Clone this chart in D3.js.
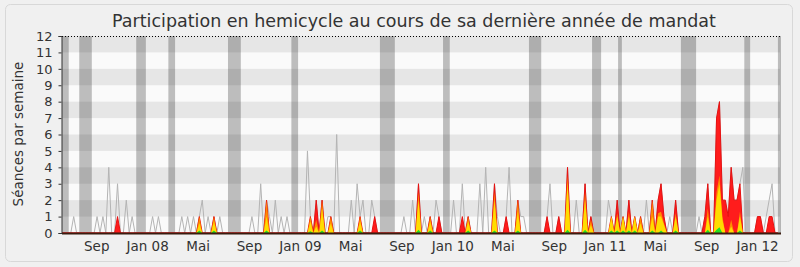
<!DOCTYPE html>
<html>
<head>
<meta charset="utf-8">
<script src="https://cdn.jsdelivr.net/npm/d3@7"></script>
<style>
body { margin: 0; background: #f0f0f0; }
svg { display: block; font-family: "DejaVu Sans", Verdana, sans-serif; }
</style>
</head>
<body>
<svg id="chart" width="800" height="267"></svg>
<script>
// weekly data, [week index, value], weeks missing = 0
const debut = new Date(2007, 5, 11);
const fin = new Date(2012, 1, 25);
const nbSemaines = 246;

const seances = [[4,1],[12,1],[14,1],[16,4],[19,3],[22,2],[24,1],[31,1],[33,1],[41,1],[43,1],[45,1],[47,1],[48,2],[50,1],[52,1],[54,1],
    [65,1],[68,3],[70,2],[71,1],[73,2],[75,1],[77,1],
    [84,5],[85,1],[87,2],[89,2],[91,1],[92,1],[94,6],
    [99,2],[101,3],[102,1],[103,2],[106,2],[107,1],
    [117,1],[120,2],[122,3],[124,1],[126,1],[128,2],[129,1],
    [134,2],[137,3],[139,1],[143,3],[145,4],[148,3],[149,1],[152,1],[153,4],[156,2],[157,1],[158,1],
    [166,1],[167,3],[170,1],[173,4],[176,2],[179,3],[181,1],
    [187,2],[188,1],[190,2],[192,1],[194,2],[196,1],[198,1],[200,2],[202,2],[204,2],[205,3],[206,1],[208,1],[210,2],
    [218,1],[220,1],[221,3],[224,7],[225,8],[226,2],[227,2],[228,1],[229,4],[230,2],[231,2],[232,3],[233,4],
    [238,1],[239,1],[241,1],[242,2],[243,3]];

const presences = [[19,1],[47,1],[52,1],[70,2],[85,1],[87,2],[89,2],[92,1],[102,1],[107,1],[122,3],[126,1],[129,1],
    [137,1],[139,1],[148,3],[152,1],[156,2],[166,1],[170,1],[173,4],[179,3],[181,1],[188,1],[190,2],[192,1],[194,2],
    [196,1],[198,1],[202,2],[204,2],[205,3],[206,1],[210,2],[220,1],[221,3],[224,7],[225,8],[226,2],[227,2],[228,1],
    [229,4],[230,2],[231,2],[232,3],[238,1],[239,1],[242,1],[243,1]];

const participations = [[47,1],[52,1],[70,2],[85,1],[87,0.8],[89,2],[92,1],[102,1],[122,2.5],[126,1],[139,1],[148,2.5],
    [156,2],[173,3.5],[179,2.5],[181,0.8],[188,1],[190,1.2],[192,1],[194,1.3],[196,1],[198,1],[202,2],[204,1.2],[205,1.3],
    [206,0.6],[210,1.2],[221,1.5],[224,2.5],[225,3.5],[226,1],[229,0.8],[232,1.3]];

const interventions = [[47,0.6],[52,0.7],[70,1],[85,0.7],[87,0.4],[89,1.5],[92,0.6],[102,0.7],[122,2],[126,0.7],[139,0.7],
    [148,2],[156,1.3],[173,3],[179,2],[181,0.5],[188,1],[190,1],[192,1],[194,1],[196,1],[198,0.6],[202,1],[204,1],[205,1],
    [206,0.5],[210,1],[221,1],[224,2],[225,3],[226,0.8],[229,0.4],[232,1]];

const questions = [[47,0.15],[52,0.15],[70,0.15],[85,0.1],[89,0.15],[102,0.15],[122,0.2],[126,0.15],[139,0.15],[148,0.15],
    [156,0.15],[173,0.2],[179,0.2],[188,0.15],[190,0.15],[192,0.15],[194,0.15],[196,0.15],[202,0.15],[205,0.15],[210,0.15],
    [221,0.2],[224,0.2],[225,0.35],[232,0.15]];

// weeks without sessions (start week, end week)
const vacances = [[-0.3,2.3],[5.9,10.2],[25.4,28.7],[36.4,38.7],[56.8,61.2],[78.5,80.8],[108.8,113.9],[130.4,132.7],
    [159.8,164],[181.4,184.5],[190.3,191.6],[211.8,217],[233.5,235.5],[245,246.1]];

const moisDates = ["2007-09-01","2008-01-01","2008-05-01","2008-09-01","2009-01-01","2009-05-01","2009-09-01",
    "2010-01-01","2010-05-01","2010-09-01","2011-01-01","2011-05-01","2011-09-01","2012-01-01"];
const moisLabels = ["Sep","Jan 08","Mai","Sep","Jan 09","Mai","Sep","Jan 10","Mai","Sep","Jan 11","Mai","Sep","Jan 12"];
const yTicks = [0,1,2,3,4,5,6,7,8,9,10,11,12];

const titre = "Participation en hemicycle au cours de sa dernière année de mandat";
const titreY = "Séances par semaine";

const gauche = 62, droite = 780, haut = 36, bas = 233;

const svg = d3.select('#chart');

svg.append('rect')
    .attr('x', 5.5).attr('y', 4.5)
    .attr('width', 787).attr('height', 257)
    .attr('rx', 5)
    .attr('fill', '#f0f0f0')
    .attr('stroke', '#d8d8d8');

const x = d3.scaleTime().domain([debut, fin]).range([gauche, droite]);
const y = d3.scaleLinear().domain([0, 12]).range([bas, haut]);

function semaine(i) {
    return new Date(+debut + i * 7 * 864e5);
}

function serie(pairs) {
    const m = new Map(pairs);
    return d3.range(nbSemaines).map(i => ({date: semaine(i), v: m.get(i) || 0}));
}

// stripes
svg.append('rect')
    .attr('x', gauche).attr('y', haut)
    .attr('width', droite - gauche).attr('height', bas - haut)
    .attr('fill', '#fafafa');

svg.selectAll('.band')
    .data(yTicks.filter(d => d % 2 === 1))
    .enter().append('rect')
    .attr('x', gauche)
    .attr('y', d => y(d + 1))
    .attr('width', droite - gauche)
    .attr('height', d => y(d) - y(d + 1))
    .attr('fill', '#e6e6e6');

// vacances
svg.selectAll('.vac')
    .data(vacances)
    .enter().append('rect')
    .attr('x', d => Math.max(gauche, x(semaine(d[0]))))
    .attr('y', haut)
    .attr('width', d => Math.min(droite + 1, x(semaine(d[1]))) - Math.max(gauche, x(semaine(d[0]))))
    .attr('height', bas - haut)
    .attr('fill', '#000')
    .attr('fill-opacity', 0.245);

// grey line
const line = d3.line().x(d => x(d.date)).y(d => y(d.v));
svg.append('path')
    .datum(serie(seances))
    .attr('d', line)
    .attr('fill', 'none')
    .attr('stroke', '#b4b4b4')
    .attr('stroke-width', 1);

const area = d3.area().x(d => x(d.date)).y0(y(0)).y1(d => y(d.v));

svg.append('path')
    .datum(serie(presences))
    .attr('d', area)
    .attr('fill', '#ff1c1c')
    .attr('stroke', '#e81010')
    .attr('stroke-width', 1);

svg.append('path')
    .datum(serie(participations))
    .attr('d', area)
    .attr('fill', '#ff8c00');

svg.append('path')
    .datum(serie(interventions))
    .attr('d', area)
    .attr('fill', '#ffdc00');

svg.append('path')
    .datum(serie(questions))
    .attr('d', area)
    .attr('fill', '#22e022');

// top dotted line
svg.append('line')
    .attr('x1', gauche).attr('y1', haut + 0.5)
    .attr('x2', droite).attr('y2', haut + 0.5)
    .attr('stroke', '#000')
    .attr('stroke-dasharray', '1,2');

// baseline
svg.append('line')
    .attr('x1', gauche).attr('y1', bas + 0.5)
    .attr('x2', droite + 1).attr('y2', bas + 0.5)
    .attr('stroke', '#3a1c10')
    .attr('stroke-width', 2);

// axes
const yAxis = svg.append('g')
    .attr('transform', `translate(${gauche - 0.5},0)`)
    .call(d3.axisLeft(y).tickValues(yTicks).tickSize(3).tickPadding(6));
yAxis.select('.domain').attr('stroke', '#333');
yAxis.selectAll('line').attr('stroke', '#333');
yAxis.selectAll('text')
    .attr('fill', '#333')
    .style('font-size', '13px')
    .style('font-family', '"DejaVu Sans", Verdana, sans-serif');

const xAxis = svg.append('g')
    .attr('transform', `translate(0,${bas})`)
    .call(d3.axisBottom(x)
        .tickValues(moisDates.map(d => d3.timeParse('%Y-%m-%d')(d)))
        .tickFormat((d, i) => moisLabels[i])
        .tickSize(0)
        .tickPadding(8));
xAxis.select('.domain').remove();
xAxis.selectAll('text')
    .attr('fill', '#333')
    .style('font-size', '13.5px')
    .style('font-family', '"DejaVu Sans", Verdana, sans-serif');

svg.append('text')
    .attr('x', 414).attr('y', 27)
    .attr('text-anchor', 'middle')
    .attr('fill', '#333')
    .style('font-size', '17.5px')
    .text(titre);

svg.append('text')
    .attr('transform', 'translate(23,134) rotate(-90)')
    .attr('text-anchor', 'middle')
    .attr('fill', '#333')
    .style('font-size', '13.5px')
    .text(titreY);
</script>
</body>
</html>
